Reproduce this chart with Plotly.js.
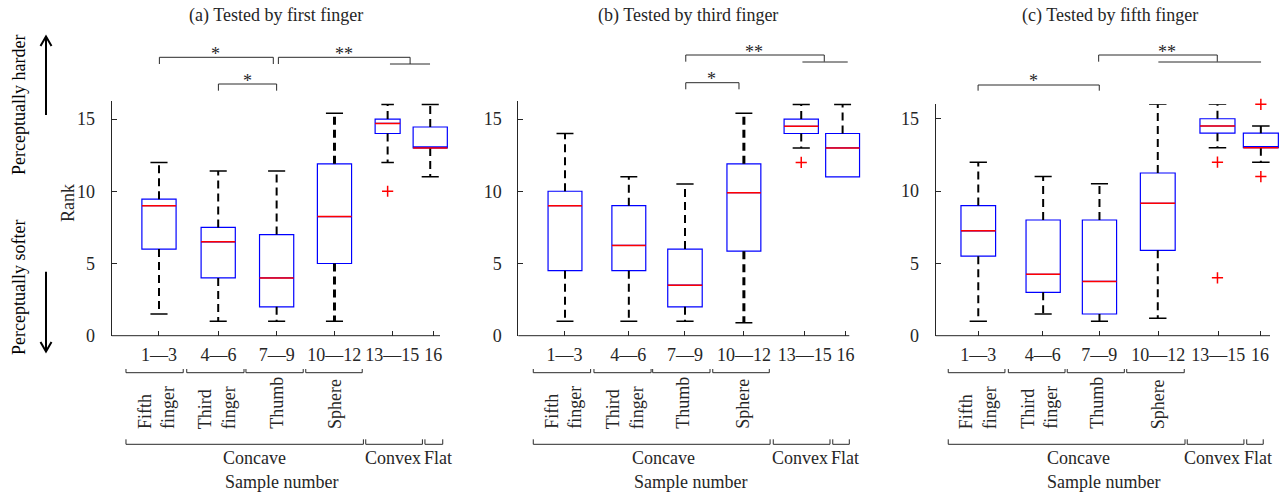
<!DOCTYPE html>
<html>
<head>
<meta charset="utf-8">
<script src="https://cdn.plot.ly/plotly-3.0.1.min.js"></script>
<style>html,body{margin:0;padding:0;background:#fff;}#chart{width:1288px;height:495px;}</style>
</head>
<body>
<div id="chart"></div>
<script>
// ---------------- DATA ----------------
const tickLabels = ['1\u20143', '4\u20146', '7\u20149', '10\u201412', '13\u201415', '16'];
const subLabels = ['Fifth<br>finger', 'Third<br>finger', 'Thumb', 'Sphere'];
const shapeLabels = ['Concave', 'Convex', 'Flat'];
const panelTitles = ['(a) Tested by first finger', '(b) Tested by third finger', '(c) Tested by fifth finger'];

// box positions on each panel's sample axis
const posA = [2.02, 5.05, 8.04, 11.0, 13.72, 15.9];
const posB = [1.97, 5.21, 8.06, 11.05, 13.96, 16.06];
const posC = [1.74, 5.0, 7.83, 10.76, 13.76, 15.94];
const tickA = [2.02, 5.06, 8.04, 10.99, 13.96, 16.06];
const tickB = [1.94, 5.18, 8.06, 11.05, 14.14, 16.21];
const tickC = [1.74, 4.98, 7.82, 10.79, 13.80, 15.90];

// (a) first finger
const upperA  = [12, 11.4, 11.4, 15.4, 16, 16];
const q3A     = [9.45, 7.5, 7, 11.9, 15, 14.45];
const medianA = [9, 6.5, 4, 8.25, 14.7, 13];
const q1A     = [6, 4, 2, 5, 14, 13];
const lowerA  = [1.5, 1, 1, 1, 12, 11];
const outGroupA = [4];
const outValA   = [10];

// (b) third finger
const upperB  = [14, 11, 10.5, 15.4, 16, 16];
const q3B     = [10, 9, 6, 11.9, 15, 14];
const medianB = [9, 6.25, 3.5, 9.9, 14.5, 13];
const q1B     = [4.5, 4.5, 2, 5.85, 14, 11];
const lowerB  = [1, 1, 1, 0.9, 13, 11];
const outGroupB = [4];
const outValB   = [12];

// (c) fifth finger
const upperC  = [12, 11, 10.5, 16, 16, 14.5];
const q3C     = [9, 8, 8, 11.25, 15, 14];
const medianC = [7.25, 4.25, 3.75, 9.15, 14.5, 13];
const q1C     = [5.5, 3, 1.5, 5.9, 14, 13];
const lowerC  = [1, 1.5, 1, 1.2, 13, 12];
const outGroupC = [4, 4, 5, 5];
const outValC   = [12, 4, 16, 11];

// ---------------- LAYOUT / STYLE ----------------
const W = 1288, H = 495;
const X = v => v / W;          // figure pixel -> paper x
const Y = v => 1 - v / H;      // figure pixel -> paper y
const SERIF = 'Liberation Serif, Times New Roman, serif';
const INK = '#262626';
const LINE = '#2a2a2a';
const XMIN = -0.4, XSPAN = 16.8, EXTRA = 16; // extra px to the right so boxes are not clipped

const panels = [
  {pos: posA, ticks: tickA, up: upperA, q3: q3A, med: medianA, q1: q1A, lo: lowerA, og: outGroupA, ov: outValA,
   dom: [111.7, 440], top: 101, ymax: 16.25, widths: [1.75, 1.75, 1.75, 1.75, 1.28, 1.75], bold: [false,false,false,true,false,false],
   title: 275.8,
   sig: [
     {x0: 2.04, x1: 7.87, top: 57.3, leg: 64, star: '*', sx: 4.9, sy: 49},
     {x0: 5.06, x1: 8.04, top: 84, leg: 90.7, star: '*', sx: 6.55, sy: 76},
     {x0: 8.13, x1: 14.87, top: 57.3, leg: 64, star: '**', sx: 11.5, sy: 49, bar: [13.84, 15.89], barY: 64}
   ],
   spans1: [[0.33, 3.26], [3.44, 6.37], [6.47, 9.4], [9.53, 12.42]],
   spans2: [[0.33, 12.48], [12.6, 15.5], [15.63, 16.54]],
   subX: [1.89, 4.97, 8.04, 11.03],
   nameX: [6.93, 14.01, 16.31], sampleX: 8.3},
  {pos: posB, ticks: tickB, up: upperB, q3: q3B, med: medianB, q1: q1B, lo: lowerB, og: outGroupB, ov: outValB,
   dom: [518.3, 849.3], top: 101, ymax: 16.25, widths: [1.72, 1.72, 1.75, 1.72, 1.74, 1.72], bold: [false,false,false,true,false,false],
   title: 688.3,
   sig: [
     {x0: 8.1, x1: 15.13, top: 55, leg: 61.7, star: '**', sx: 11.55, sy: 46.7, bar: [14.02, 16.32], barY: 62},
     {x0: 8.1, x1: 10.8, top: 82.7, leg: 89.3, star: '*', sx: 9.4, sy: 74}
   ],
   spans1: [[0.36, 3.27], [3.44, 6.34], [6.42, 9.33], [9.47, 12.34]],
   spans2: [[0.36, 12.38], [12.54, 15.42], [15.56, 16.4]],
   subX: [1.88, 5.0, 7.95, 10.99],
   nameX: [6.96, 13.9, 16.19], sampleX: 8.32},
  {pos: posC, ticks: tickC, up: upperC, q3: q3C, med: medianC, q1: q1C, lo: lowerC, og: outGroupC, ov: outValC,
   dom: [935.7, 1270], top: 104.3, ymax: 16.0, widths: [1.74, 1.72, 1.72, 1.75, 1.76, 1.76], bold: [false,false,false,false,false,false],
   title: 1109.5,
   sig: [
     {x0: 7.79, x1: 13.75, top: 55, leg: 61.7, star: '**', sx: 11.2, sy: 46.7, bar: [10.79, 15.95], barY: 62},
     {x0: 1.73, x1: 7.82, top: 85, leg: 90.7, star: '*', sx: 4.5, sy: 76}
   ],
   spans1: [[0.23, 3.08], [3.25, 6.1], [6.21, 9.08], [9.2, 12.09]],
   spans2: [[0.23, 12.13], [12.24, 15.09], [15.23, 16.06]],
   subX: [1.71, 4.80, 7.69, 10.79],
   nameX: [6.77, 13.47, 15.81], sampleX: 8.02}
];

const traces = [];
const shapes = [];
const annotations = [];
const layout = {
  width: W, height: H,
  margin: {l: 0, r: 0, t: 0, b: 0},
  paper_bgcolor: '#ffffff', plot_bgcolor: '#ffffff',
  showlegend: false,
  font: {family: SERIF, size: 18, color: INK},
  shapes: shapes, annotations: annotations
};

const Y0 = 335.7; // pixel row of rank 0

panels.forEach((p, k) => {
  const sx = k === 0 ? '' : String(k + 1);
  const xa = 'x' + sx, ya = 'y' + sx;
  const unit = (p.dom[1] - p.dom[0]) / XSPAN;
  layout['xaxis' + sx] = {
    domain: [X(p.dom[0]), X(p.dom[1] + EXTRA)], range: [XMIN, XMIN + XSPAN + EXTRA / unit], anchor: ya,
    showline: false,
    ticks: 'inside', ticklen: 5, tickwidth: 1, tickcolor: INK,
    tickvals: p.ticks, ticktext: tickLabels, tickfont: {family: SERIF, size: 18, color: INK},
    ticklabelstandoff: 6,
    showgrid: false, zeroline: false, fixedrange: true
  };
  layout['yaxis' + sx] = {
    domain: [Y(Y0), Y(p.top)], range: [0, p.ymax], anchor: xa,
    showline: true, linecolor: INK, linewidth: 1, mirror: false,
    ticks: 'inside', ticklen: 5, tickwidth: 1, tickcolor: INK,
    tickvals: [0, 5, 10, 15], ticktext: ['0', '5', '10', '15'],
    tickfont: {family: SERIF, size: 18, color: INK},
    ticklabelstandoff: 12,
    showgrid: false, zeroline: false, fixedrange: true
  };
  // bottom axis line (ends at the nominal axis end)
  shapes.push({type: 'line', xref: 'paper', yref: 'paper', x0: X(p.dom[0]), x1: X(p.dom[1]), y0: Y(Y0), y1: Y(Y0),
    line: {color: INK, width: 1}});

  // boxes (blue outline, no whiskers)
  p.pos.forEach((x, i) => {
    traces.push({
      type: 'box', xaxis: xa, yaxis: ya,
      x: [x], q1: [p.q1[i]], median: [p.med[i]], q3: [p.q3[i]],
      lowerfence: [p.q1[i]], upperfence: [p.q3[i]],
      width: p.widths[i], whiskerwidth: 0, boxpoints: false,
      line: {color: '#0000ff', width: 1.2}, fillcolor: 'rgba(255,255,255,0)',
      hoverinfo: 'skip'
    });
  });

  // whiskers (dashed black)
  const wx = [], wy = [], bx = [], by = [];
  p.pos.forEach((x, i) => {
    const tx = p.bold[i] ? bx : wx, ty = p.bold[i] ? by : wy;
    if (p.up[i] > p.q3[i]) { tx.push(x, x, null); ty.push(p.q3[i], p.up[i], null); }
    if (p.lo[i] < p.q1[i]) { tx.push(x, x, null); ty.push(p.q1[i], p.lo[i], null); }
  });
  traces.push({type: 'scatter', mode: 'lines', xaxis: xa, yaxis: ya, x: wx, y: wy,
    line: {color: '#000', width: 2, dash: '8px,5px'}, hoverinfo: 'skip', cliponaxis: false});
  traces.push({type: 'scatter', mode: 'lines', xaxis: xa, yaxis: ya, x: bx, y: by,
    line: {color: '#000', width: 3, dash: '8px,5px'}, hoverinfo: 'skip', cliponaxis: false});

  // whisker caps
  const cx = [], cy = [];
  p.pos.forEach((x, i) => {
    const h = p.widths[i] / 4;
    if (p.up[i] > p.q3[i]) { cx.push(x - h, x + h, null); cy.push(p.up[i], p.up[i], null); }
    if (p.lo[i] < p.q1[i]) { cx.push(x - h, x + h, null); cy.push(p.lo[i], p.lo[i], null); }
  });
  traces.push({type: 'scatter', mode: 'lines', xaxis: xa, yaxis: ya, x: cx, y: cy,
    line: {color: '#000', width: 1.5}, hoverinfo: 'skip', cliponaxis: false});

  // medians (red)
  const mx = [], my = [];
  p.pos.forEach((x, i) => {
    const h = p.widths[i] / 2;
    mx.push(x - h, x + h, null); my.push(p.med[i], p.med[i], null);
  });
  traces.push({type: 'scatter', mode: 'lines', xaxis: xa, yaxis: ya, x: mx, y: my,
    line: {color: '#ff0000', width: 1.5}, hoverinfo: 'skip', cliponaxis: false});

  // outliers
  traces.push({type: 'scatter', mode: 'markers', xaxis: xa, yaxis: ya,
    x: p.og.map(g => p.pos[g]), y: p.ov,
    marker: {symbol: 'cross-thin', size: 8, color: '#ff0000', line: {color: '#ff0000', width: 1.5}},
    hoverinfo: 'skip', cliponaxis: false});

  // titles
  annotations.push({xref: 'paper', yref: 'paper', x: X(p.title), y: Y(16), xanchor: 'center', yanchor: 'middle',
    text: panelTitles[k], showarrow: false, font: {family: SERIF, size: 18, color: INK}});

  // significance brackets
  p.sig.forEach(s => {
    shapes.push({type: 'path', xref: xa, yref: 'paper', line: {color: LINE, width: 1},
      path: `M ${s.x0},${Y(s.leg)} L ${s.x0},${Y(s.top)} L ${s.x1},${Y(s.top)} L ${s.x1},${Y(s.leg)}`});
    if (s.bar) {
      shapes.push({type: 'line', xref: xa, yref: 'paper', x0: s.bar[0], x1: s.bar[1], y0: Y(s.barY), y1: Y(s.barY),
        line: {color: LINE, width: 1}});
    }
    annotations.push({xref: xa, yref: 'paper', x: s.sx, y: Y(s.sy + 5), xanchor: 'center', yanchor: 'middle',
      text: s.star, showarrow: false, font: {family: SERIF, size: 18, color: INK}});
  });

  // group brackets below axis
  p.spans1.forEach(sp => {
    shapes.push({type: 'path', xref: xa, yref: 'paper', line: {color: LINE, width: 1},
      path: `M ${sp[0]},${Y(369)} L ${sp[0]},${Y(372.7)} L ${sp[1]},${Y(372.7)} L ${sp[1]},${Y(369)}`});
  });
  p.spans2.forEach(sp => {
    shapes.push({type: 'path', xref: xa, yref: 'paper', line: {color: LINE, width: 1},
      path: `M ${sp[0]},${Y(439.3)} L ${sp[0]},${Y(444.3)} L ${sp[1]},${Y(444.3)} L ${sp[1]},${Y(439.3)}`});
  });
  subLabels.forEach((t, i) => {
    annotations.push({xref: xa, yref: 'paper', x: p.subX[i], y: Y(431), xanchor: 'center', yanchor: 'bottom',
      text: t, textangle: -90, align: 'left', showarrow: false, font: {family: SERIF, size: 18, color: INK}});
  });
  shapeLabels.forEach((t, i) => {
    annotations.push({xref: xa, yref: 'paper', x: p.nameX[i], y: Y(458), xanchor: 'center', yanchor: 'middle',
      text: t, showarrow: false, font: {family: SERIF, size: 18, color: INK}});
  });
  annotations.push({xref: xa, yref: 'paper', x: p.sampleX, y: Y(482), xanchor: 'center', yanchor: 'middle',
    text: 'Sample number', showarrow: false, font: {family: SERIF, size: 18, color: INK}});
});

// y-axis title and side notes
annotations.push({xref: 'paper', yref: 'paper', x: X(68), y: Y(203), xanchor: 'center', yanchor: 'middle',
  text: 'Rank', textangle: -90, showarrow: false, font: {family: SERIF, size: 18, color: INK}});
annotations.push({xref: 'paper', yref: 'paper', x: X(19), y: Y(105), xanchor: 'center', yanchor: 'middle',
  text: 'Perceptually harder', textangle: -90, showarrow: false, font: {family: SERIF, size: 18, color: '#000'}});
annotations.push({xref: 'paper', yref: 'paper', x: X(19), y: Y(288), xanchor: 'center', yanchor: 'middle',
  text: 'Perceptually softer', textangle: -90, showarrow: false, font: {family: SERIF, size: 18, color: '#000'}});

// arrows
shapes.push({type: 'path', xref: 'paper', yref: 'paper', line: {color: '#000', width: 2},
  path: `M ${X(46)},${Y(115)} L ${X(46)},${Y(37)} M ${X(40.5)},${Y(46)} L ${X(46)},${Y(36.5)} L ${X(51.5)},${Y(46)}`});
shapes.push({type: 'path', xref: 'paper', yref: 'paper', line: {color: '#000', width: 2},
  path: `M ${X(46)},${Y(271.7)} L ${X(46)},${Y(351)} M ${X(40.5)},${Y(342)} L ${X(46)},${Y(351.5)} L ${X(51.5)},${Y(342)}`});

Plotly.newPlot('chart', traces, layout, {displayModeBar: false, staticPlot: true});
</script>
</body>
</html>
